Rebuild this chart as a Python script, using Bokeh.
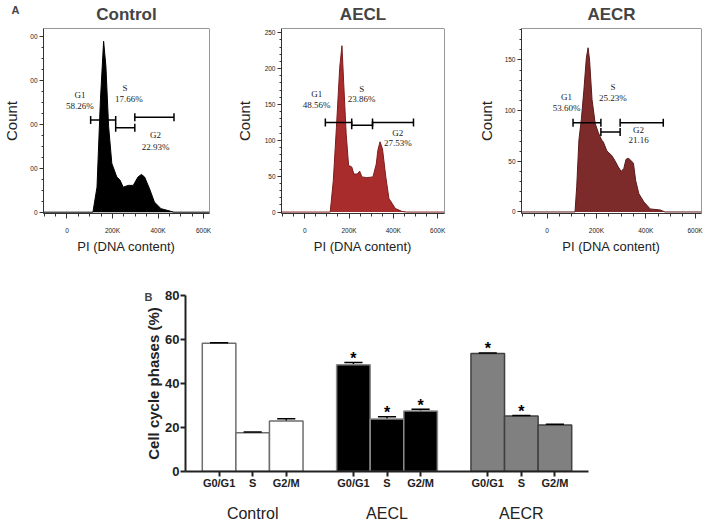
import math
from bokeh.plotting import figure
from bokeh.layouts import column, row
from bokeh.models import Range1d, FixedTicker, LinearAxis, BoxAnnotation, Title
from bokeh.core.properties import value
from bokeh.embed import file_html
from bokeh.resources import INLINE

# ---------------- Panel A: DNA histograms (PI in thousands, counts) ----------------
ctrl_pi = [114, 132, 147, 161, 171, 183, 197, 219, 233, 247, 269, 291, 312, 327, 341, 363, 384, 413, 456, 470]
ctrl_count = [0, 57, 256, 389, 332, 195, 111, 80, 73, 57, 61, 61, 80, 86, 80, 53, 23, 8, 2, 0]

aecl_pi = [115, 129, 143, 158, 168, 176, 187, 198, 212, 222, 237, 248, 258, 280, 308, 323, 330, 340, 351, 366, 380, 409, 438, 459]
aecl_count = [0, 44, 118, 202, 232, 179, 109, 65, 63, 53, 53, 57, 49, 48, 49, 67, 86, 98, 88, 49, 19, 5, 1, 0]

aecr_pi = [113, 120, 129, 139, 149, 159, 166, 172, 182, 195, 208, 221, 228, 241, 247, 261, 274, 287, 300, 311, 320, 329, 339, 350, 359, 372, 392, 418, 458, 478]
aecr_count = [0, 25, 71, 92, 120, 152, 162, 150, 111, 87, 78, 71, 69, 61, 59, 56, 51, 45, 40, 43, 52, 53, 51, 48, 31, 18, 10, 3, 2, 0]

x_tick_vals = [0, 200, 400, 600]
x_tick_text = ["0", "200K", "400K", "600K"]

ctrl_yticks = [0, 100, 200, 300, 400]
ctrl_ylabels = ["0", "00", "00", "00", "00"]
aecl_yticks = [0, 50, 100, 150, 200, 250]
aecl_ylabels = ["0", "50", "100", "150", "200", "250"]
aecr_yticks = [0, 50, 100, 150]
aecr_ylabels = ["0", "50", "100", "150"]

# gates: (start, end, level)
ctrl_gate_lo = [104, 214, 298]; ctrl_gate_hi = [214, 298, 470]; ctrl_gate_y = [210, 192, 216]
aecl_gate_lo = [93, 212, 306]; aecl_gate_hi = [212, 306, 491]; aecl_gate_y = [125, 121, 125]
aecr_gate_lo = [105, 218, 296]; aecr_gate_hi = [218, 296, 471]; aecr_gate_y = [88, 79, 88]

ctrl_lab_txt = ["G1", "58.26%", "S", "17.66%", "G2", "22.93%"]
ctrl_lab_x = [57, 57, 255, 272, 389, 389]
ctrl_lab_y = [266, 241, 282, 257, 175, 148]
aecl_lab_txt = ["G1", "48.56%", "S", "23.86%", "G2", "27.53%"]
aecl_lab_x = [54, 54, 257, 257, 420, 420]
aecl_lab_y = [165, 149, 172, 157, 110, 96]
aecr_lab_txt = ["G1", "53.60%", "S", "25.23%", "G2", "21.16"]
aecr_lab_x = [79, 79, 267, 267, 371, 371]
aecr_lab_y = [113, 103, 123, 112, 81, 71]

TOP_H = 256


def panel_title(text):
    return Title(text=text, align="center", vertical_align="top", standoff=6,
                 text_font="Liberation Sans", text_font_size="17px", text_font_style="bold")


def make_hist(title, pi, cnt, x_rng, y_rng, yticks, ylabels, yminor_step, fill, edge,
              g_lo, g_hi, g_y, l_x, l_y, l_t, width, left, right, ylab_standoff, letter=None):
    p = figure(width=width, height=TOP_H, x_range=Range1d(*x_rng), y_range=Range1d(*y_rng),
               output_backend="svg", toolbar_location=None,
               min_border_left=left, min_border_right=right,
               min_border_top=28, min_border_bottom=43)
    if letter is None:
        p.title = panel_title(title)
    else:
        # panel letter as the outer title, the panel name as the inner one
        p.title = Title(text=letter, align="left", offset=-32, standoff=-28,
                        text_font="Liberation Sans", text_font_size="11px",
                        text_font_style="bold")
        p.add_layout(panel_title(title), "above")
    p.grid.visible = False
    p.outline_line_color = None

    xs = [x_rng[0]] + pi + [x_rng[1]]
    ys = [0] + cnt + [0]
    p.varea(x=xs, y1=0, y2=ys, fill_color=fill)
    p.line(xs, ys, line_color=edge, line_width=1)
    p.add_layout(BoxAnnotation(fill_alpha=0, line_color="#333333", line_width=1, line_alpha=1))

    p.segment(x0=g_lo, y0=g_y, x1=g_hi, y1=g_y, line_color="black", line_width=1.5)
    p.scatter(x=g_lo + g_hi, y=g_y + g_y, marker="dash", angle=math.pi / 2, size=8,
              line_color="black", line_width=1.5)
    p.text(x=l_x, y=l_y, text=l_t, text_font=value("Liberation Serif"), text_font_size="9px",
           text_align="center", text_baseline="middle", text_color="#222222")

    xa = p.xaxis[0]
    xa.ticker = FixedTicker(ticks=x_tick_vals, minor_ticks=list(range(-100, 651, 50)))
    xa.major_label_overrides = dict(zip(x_tick_vals, x_tick_text))
    xa.axis_label = "PI (DNA content)"
    ya = p.yaxis[0]
    top = int(y_rng[1])
    ya.ticker = FixedTicker(ticks=yticks, minor_ticks=list(range(0, top + 1, yminor_step)))
    ya.major_label_overrides = dict(zip(yticks, ylabels))
    ya.axis_label = "Count"
    for ax in (xa, ya):
        ax.axis_line_color = "#333333"
        ax.major_tick_line_color = "#333333"
        ax.minor_tick_line_color = "#333333"
        ax.major_tick_in = 0
        ax.minor_tick_in = 0
        ax.major_label_text_font = "Liberation Sans"
        ax.major_label_text_font_size = "6.5px"
        ax.major_label_text_color = "#222222"
        ax.axis_label_text_font = "Liberation Sans"
        ax.axis_label_text_font_style = "normal"
        ax.axis_label_text_color = "#222222"
    xa.major_tick_out = 5
    xa.minor_tick_out = 3
    xa.major_label_standoff = 8
    xa.axis_label_standoff = 2
    xa.axis_label_text_font_size = "13px"
    ya.major_tick_out = 4
    ya.minor_tick_out = 2
    ya.major_label_standoff = 2
    ya.axis_label_standoff = ylab_standoff
    ya.axis_label_text_font_size = "15px"
    return p


h1 = make_hist("Control", ctrl_pi, ctrl_count, (-103, 626), (-3, 418), ctrl_yticks, ctrl_ylabels, 25,
               "black", "black", ctrl_gate_lo, ctrl_gate_hi, ctrl_gate_y,
               ctrl_lab_x, ctrl_lab_y, ctrl_lab_txt, 232, 40, 23, 7, letter="A")
h2 = make_hist("AECL", aecl_pi, aecl_count, (-105, 631), (-2, 256), aecl_yticks, aecl_ylabels, 10,
               "#a82c2c", "#7e1d1d", aecl_gate_lo, aecl_gate_hi, aecl_gate_y,
               aecl_lab_x, aecl_lab_y, aecl_lab_txt, 242, 41, 30, 9)
h3 = make_hist("AECR", aecr_pi, aecr_count, (-104, 626), (-1.5, 181), aecr_yticks, aecr_ylabels, 10,
               "#7d2a2a", "#5c1a1a", aecr_gate_lo, aecr_gate_hi, aecr_gate_y,
               aecr_lab_x, aecr_lab_y, aecr_lab_txt, 234, 42, 7, 7)

# ---------------- Panel B: bar chart ----------------
groups = ["Control", "AECL", "AECR"]
phases = ["G0/G1", "S", "G2/M"]
ctrl_pct = [58.26, 17.66, 22.93]
ctrl_err = [0.3, 0.3, 1.0]
aecl_pct = [48.56, 23.86, 27.53]
aecl_err = [1.0, 1.0, 0.8]
aecr_pct = [53.60, 25.23, 21.16]
aecr_err = [0.3, 0.2, 0.3]
ctrl_sig = [False, False, False]
aecl_sig = [True, True, True]
aecr_sig = [True, True, False]
group_fill = ["white", "black", "#808080"]
group_edge = ["#6e6e6e", "#8a8a8a", "#404040"]
y_ticks_b = [0, 20, 40, 60, 80]

b = figure(width=708, height=269, x_range=Range1d(0, 12), y_range=Range1d(0, 80),
           output_backend="svg", toolbar_location=None, title="B",
           min_border_left=185, min_border_right=120, min_border_top=39, min_border_bottom=54)
b.title.align = "left"
b.title.offset = -41
b.title.standoff = -15
b.title.text_font = "Liberation Sans"
b.title.text_font_size = "11px"
b.title.text_font_style = "bold"
b.grid.visible = False
b.outline_line_color = None

pos, tick_labels = [], []
for gi, (vals, errs, sig) in enumerate([(ctrl_pct, ctrl_err, ctrl_sig),
                                        (aecl_pct, aecl_err, aecl_sig),
                                        (aecr_pct, aecr_err, aecr_sig)]):
    xs = [1 + 4 * gi + j for j in range(3)]
    pos += xs
    tick_labels += phases
    tops = [v + e for v, e in zip(vals, errs)]
    b.segment(x0=xs, y0=vals, x1=xs, y1=tops, line_color="black", line_width=1.5)
    b.vbar(x=xs, top=vals, width=1.0, bottom=0, fill_color=group_fill[gi],
           line_color=group_edge[gi], line_width=1.5)
    b.segment(x0=[x - 0.27 for x in xs], y0=tops, x1=[x + 0.27 for x in xs], y1=tops,
              line_color="black", line_width=1.5)
    sx = [x for x, s in zip(xs, sig) if s]
    sy = [t for t, s in zip(tops, sig) if s]
    if sx:
        b.text(x=sx, y=sy, text=["*"] * len(sx), text_font=value("Liberation Sans"),
               text_font_size="16px", text_font_style="bold", text_align="center",
               text_baseline="alphabetic", text_color="black", y_offset=-4)

xa = b.xaxis[0]
xa.ticker = FixedTicker(ticks=pos)
xa.major_label_overrides = dict(zip(pos, tick_labels))
xa.major_label_text_font_size = "11px"
xa.major_label_text_font_style = "bold"
xa.major_label_standoff = 0
ya = b.yaxis[0]
ya.ticker = FixedTicker(ticks=y_ticks_b)
ya.major_label_text_font_size = "13px"
ya.major_label_text_font_style = "bold"
ya.major_label_standoff = 1
ya.axis_label = "Cell cycle phases (%)"
ya.axis_label_text_font_size = "15px"
ya.axis_label_text_font_style = "bold"
ya.axis_label_standoff = 0
for ax in (xa, ya):
    ax.axis_line_width = 2
    ax.axis_line_color = "#222222"
    ax.major_tick_line_width = 2
    ax.major_tick_line_color = "#222222"
    ax.major_tick_in = 0
    ax.major_tick_out = 5
    ax.minor_tick_line_color = None
    ax.major_label_text_font = "Liberation Sans"
    ax.major_label_text_color = "#222222"
    ax.axis_label_text_font = "Liberation Sans"
    ax.axis_label_text_color = "#222222"

group_pos = [2, 6, 10]
ga = LinearAxis(ticker=FixedTicker(ticks=group_pos),
                major_label_overrides=dict(zip(group_pos, groups)))
ga.axis_line_color = None
ga.major_tick_line_color = None
ga.major_tick_out = 0
ga.minor_tick_line_color = None
ga.minor_tick_out = 0
ga.major_label_text_font = "Liberation Sans"
ga.major_label_text_font_size = "16px"
ga.major_label_text_color = "#222222"
ga.major_label_standoff = 13
b.add_layout(ga, "below")

layout = column(row(h1, h2, h3), b)
open("out.html", "w").write(file_html(layout, INLINE))
